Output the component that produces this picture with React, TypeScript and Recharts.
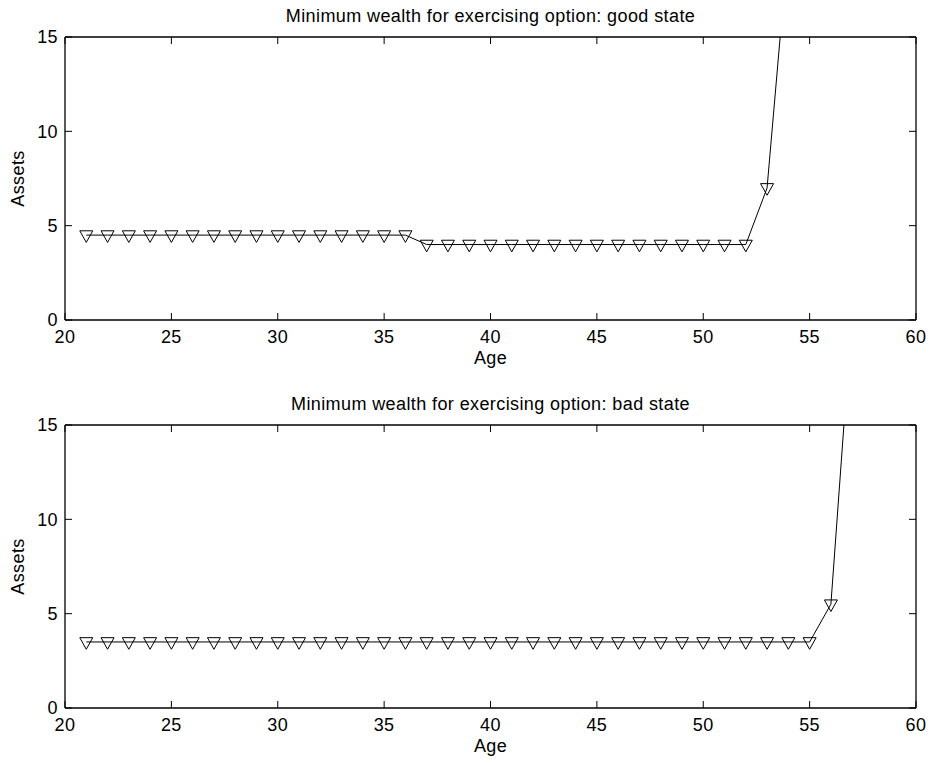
import React from 'react';
import { LineChart, Line, XAxis, YAxis, Label } from 'recharts';

// ages where the threshold was computed
const AGES_GOOD = [21, 22, 23, 24, 25, 26, 27, 28, 29, 30, 31, 32, 33, 34, 35, 36, 37, 38, 39, 40, 41, 42, 43, 44, 45, 46, 47, 48, 49, 50, 51, 52, 53, 54];
const WEALTH_GOOD = [4.5, 4.5, 4.5, 4.5, 4.5, 4.5, 4.5, 4.5, 4.5, 4.5, 4.5, 4.5, 4.5, 4.5, 4.5, 4.5, 4.0, 4.0, 4.0, 4.0, 4.0, 4.0, 4.0, 4.0, 4.0, 4.0, 4.0, 4.0, 4.0, 4.0, 4.0, 4.0, 7.0, 20.0];

const AGES_BAD = [21, 22, 23, 24, 25, 26, 27, 28, 29, 30, 31, 32, 33, 34, 35, 36, 37, 38, 39, 40, 41, 42, 43, 44, 45, 46, 47, 48, 49, 50, 51, 52, 53, 54, 55, 56, 57];
const WEALTH_BAD = [3.5, 3.5, 3.5, 3.5, 3.5, 3.5, 3.5, 3.5, 3.5, 3.5, 3.5, 3.5, 3.5, 3.5, 3.5, 3.5, 3.5, 3.5, 3.5, 3.5, 3.5, 3.5, 3.5, 3.5, 3.5, 3.5, 3.5, 3.5, 3.5, 3.5, 3.5, 3.5, 3.5, 3.5, 3.5, 5.5, 21.0];

const AGE_TICKS = [20, 25, 30, 35, 40, 45, 50, 55, 60];
const ASSET_TICKS = [0, 5, 10, 15];

const TITLE_GOOD = 'Minimum wealth for exercising option: good state';
const TITLE_BAD = 'Minimum wealth for exercising option: bad state';

const FONT = '"Liberation Sans", Arial, Helvetica, sans-serif';
const FS = 18;
const SPACING = 0.4;
const TICK_LEN = 7;

// matlab style: ticks point into the box
const BottomTick = (props: any) => {
  const { x, y, payload } = props;
  return (
    <g>
      <line x1={x} x2={x} y1={y} y2={y - TICK_LEN} stroke="#000" />
      <text x={x} y={y + 23} textAnchor="middle" fontFamily={FONT} fontSize={FS} letterSpacing={SPACING} fill="#000">
        {payload.value}
      </text>
    </g>
  );
};

const LeftTick = (props: any) => {
  const { x, y, payload } = props;
  return (
    <g>
      <line x1={x} x2={x + TICK_LEN} y1={y} y2={y} stroke="#000" />
      <text x={x - 7} y={y} dy="0.36em" textAnchor="end" fontFamily={FONT} fontSize={FS} letterSpacing={SPACING} fill="#000">
        {payload.value}
      </text>
    </g>
  );
};

const TopTick = (props: any) => {
  const { x, y } = props;
  return <line x1={x} x2={x} y1={y} y2={y + TICK_LEN} stroke="#000" />;
};

const RightTick = (props: any) => {
  const { x, y } = props;
  return <line x1={x} x2={x - TICK_LEN} y1={y} y2={y} stroke="#000" />;
};

// open downward triangle, like matlab's 'v' marker
const TriangleDot = (props: any) => {
  const { cx, cy, index } = props;
  if (cx == null || cy == null) return null;
  return (
    <path
      key={`tri-${index}`}
      d={`M${cx - 6.5},${cy - 4.3} L${cx + 6.5},${cy - 4.3} L${cx},${cy + 7.3} Z`}
      fill="none"
      stroke="#000"
      strokeWidth={1}
    />
  );
};

interface PanelProps {
  ages: number[];
  values: number[];
  title: string;
}

const Panel: React.FC<PanelProps> = ({ ages, values, title }) => {
  const data = ages.map((a, i) => ({ age: a, assets: values[i] }));
  const axisLine = { stroke: '#000', strokeWidth: 1.3 };

  return (
    <LineChart width={929} height={372} data={data} margin={{ top: 36, right: 12, bottom: 0, left: 0 }}>
      <XAxis
        dataKey="age"
        type="number"
        domain={[20, 60]}
        ticks={AGE_TICKS}
        interval={0}
        height={52}
        tickSize={0}
        tickMargin={0}
        axisLine={axisLine}
        tick={<BottomTick />}
      >
        <Label
          value="Age"
          position="insideBottom"
          offset={8}
          fontFamily={FONT}
          fontSize={FS}
          letterSpacing={SPACING}
          fill="#000"
        />
      </XAxis>
      <XAxis
        xAxisId="top"
        orientation="top"
        dataKey="age"
        type="number"
        domain={[20, 60]}
        ticks={AGE_TICKS}
        interval={0}
        allowDataOverflow
        height={1}
        tickSize={0}
        tickMargin={0}
        axisLine={axisLine}
        tick={<TopTick />}
      >
        <Label
          value={title}
          position="top"
          offset={14}
          fontFamily={FONT}
          fontSize={FS}
          letterSpacing={SPACING}
          fill="#000"
        />
      </XAxis>
      <YAxis
        type="number"
        domain={[0, 15]}
        ticks={ASSET_TICKS}
        interval={0}
        allowDataOverflow
        width={65}
        tickSize={0}
        tickMargin={0}
        axisLine={axisLine}
        tick={<LeftTick />}
      >
        <Label
          content={(p: any) => {
            const vb = p.viewBox;
            const cx = vb.x + 18;
            const cy = vb.y + vb.height / 2;
            return (
              <text
                x={cx}
                y={cy}
                transform={`rotate(-90, ${cx}, ${cy})`}
                textAnchor="middle"
                dominantBaseline="central"
                fontFamily={FONT}
                fontSize={FS}
                letterSpacing={SPACING}
                fill="#000"
              >
                Assets
              </text>
            );
          }}
        />
      </YAxis>
      <YAxis
        yAxisId="right"
        orientation="right"
        type="number"
        domain={[0, 15]}
        ticks={ASSET_TICKS}
        interval={0}
        allowDataOverflow
        width={1}
        tickSize={0}
        tickMargin={0}
        axisLine={axisLine}
        tick={<RightTick />}
      />
      <Line
        type="linear"
        dataKey="assets"
        stroke="#000"
        strokeWidth={1}
        dot={<TriangleDot />}
        activeDot={false}
        isAnimationActive={false}
      />
    </LineChart>
  );
};

export default function App() {
  return (
    <div style={{ position: 'absolute', left: 0, top: 0, width: 929, height: 760, background: '#fff' }}>
      <div style={{ position: 'absolute', left: 0, top: 0 }}>
        <Panel ages={AGES_GOOD} values={WEALTH_GOOD} title={TITLE_GOOD} />
      </div>
      <div style={{ position: 'absolute', left: 0, top: 388 }}>
        <Panel ages={AGES_BAD} values={WEALTH_BAD} title={TITLE_BAD} />
      </div>
    </div>
  );
}
